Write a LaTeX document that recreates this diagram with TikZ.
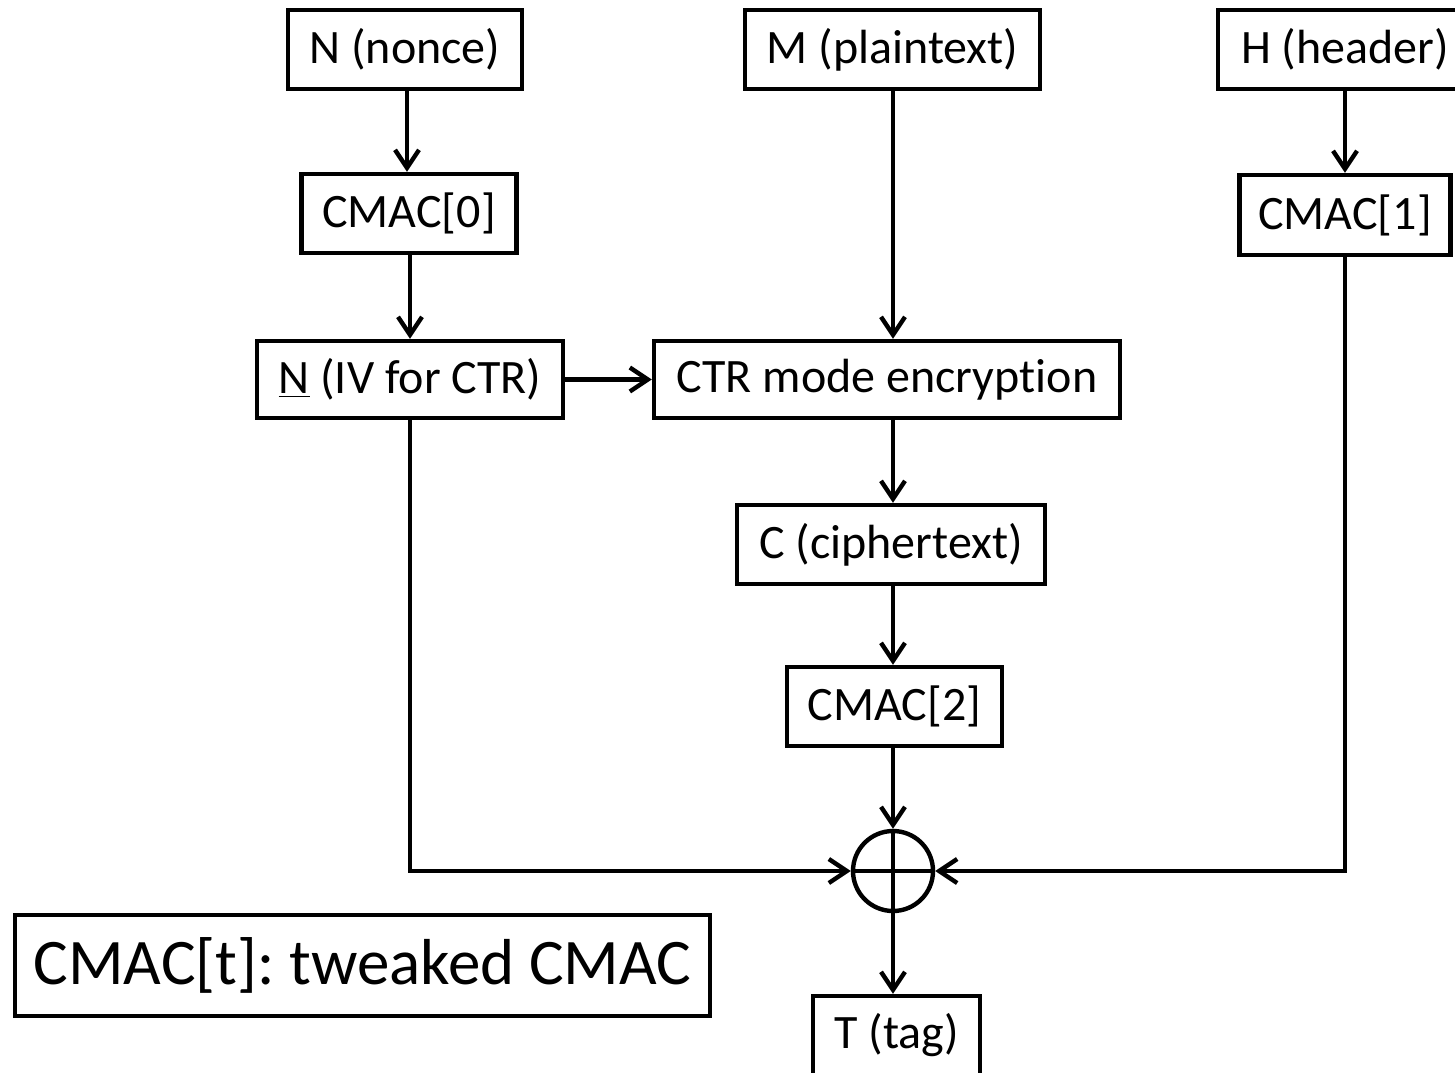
\documentclass[tikz,border=0pt]{standalone}
\usepackage{fontspec}
\setmainfont[Ligatures={NoCommon}]{Carlito}
\usetikzlibrary{arrows.meta,calc}
\frenchspacing
\begin{document}
\begin{tikzpicture}[x=0.5pt,y=-0.5pt,
  box/.style={draw,line width=2.2pt,inner sep=0pt,minimum height=39.5pt,font=\frenchspacing\fontsize{24pt}{28pt}\selectfont},
  conn/.style={line width=2.2pt},
  arr/.style={conn,-{Straight Barb[length=9pt,width=12pt,line width=2.2pt]}}]
\useasboundingbox (0,0) rectangle (1455,1072);
\node[box,minimum width=117pt] (nonce) at (405,49.5) {N (nonce)};
\node[box,minimum width=147.5pt] (M) at (892.5,49.5) {M (plaintext)};
\node[box,minimum width=127pt] (H) at (1345,49.5) {H (header)};
\node[box,minimum width=107.5pt] (c0) at (409,213.5) {CMAC[0]};
\node[box,minimum width=105.5pt,minimum height=40pt] (c1) at (1345,215) {CMAC[1]};
\node[box,minimum width=153pt,minimum height=38.5pt] (iv) at (410,379.5) {\underline{N} (IV for CTR)};
\node[box,minimum width=233pt,minimum height=38.5pt] (ctr) at (887,379.5) {CTR mode encryption};
\node[box,minimum width=154pt] (C) at (891,544.5) {C (ciphertext)};
\node[box,minimum width=107.5pt] (c2) at (894.5,706.5) {CMAC[2]};
\node[draw,circle,line width=2.2pt,minimum size=40pt,inner sep=0pt] (x) at (893,871) {};
\draw[conn] (x.north) -- (x.south) (x.west) -- (x.east);
\node[box,minimum width=83.5pt] (T) at (896.5,1035.5) {T (tag)};
\node[box,minimum width=347.5pt,minimum height=50.5pt,font=\frenchspacing\fontsize{32.5pt}{38pt}\selectfont] (legend) at (362.5,965.5) {CMAC[t]: tweaked CMAC};
\coordinate (a1) at (407,0);
\draw[arr] (nonce.south -| a1) -- (c0.north -| a1);
\draw[arr] (c0.south -| iv) -- (iv.north);
\draw[arr] (M.south -| x) -- (ctr.north -| x);
\draw[arr] (iv.east) -- (ctr.west);
\draw[arr] (ctr.south -| x) -- (C.north -| x);
\draw[arr] (C.south -| x) -- (c2.north -| x);
\draw[arr] (c2.south -| x) -- (x.north);
\draw[arr] (H.south) -- (c1.north);
\draw[arr] (iv.south) |- (x.west);
\draw[arr] (c1.south) |- (x.east);
\draw[arr] (x.south) -- (T.north -| x);
\end{tikzpicture}
\end{document}
